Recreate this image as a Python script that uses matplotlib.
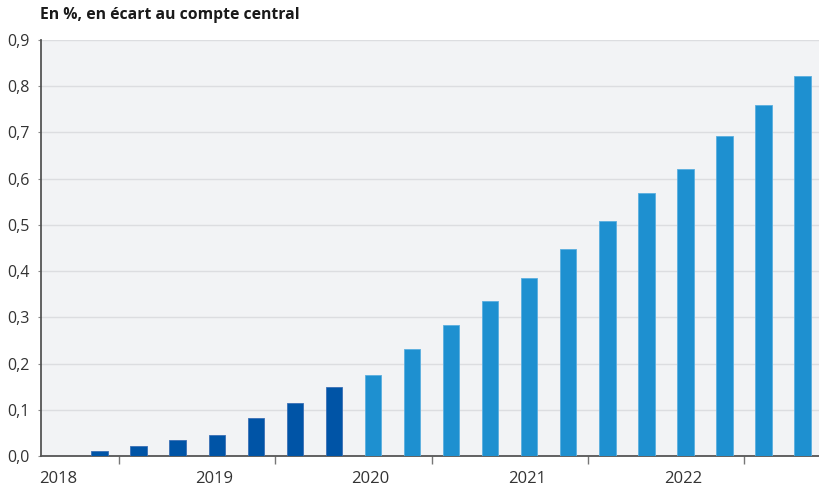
import matplotlib
matplotlib.use("Agg")
from matplotlib import pyplot as plt
from matplotlib.ticker import FixedLocator, FuncFormatter

plt.rcParams['font.family'] = ['Open Sans', 'DejaVu Sans']

# quarters from 2018 T3 to 2023 T2
years = [2018, 2018, 2019, 2019, 2019, 2019, 2020, 2020, 2020, 2020,
         2021, 2021, 2021, 2021, 2022, 2022, 2022, 2022, 2023, 2023]
quarters = [3, 4, 1, 2, 3, 4, 1, 2, 3, 4, 1, 2, 3, 4, 1, 2, 3, 4, 1, 2]
values = [0.0, 0.01, 0.021, 0.034, 0.046, 0.083, 0.114, 0.149, 0.176, 0.232,
          0.284, 0.335, 0.384, 0.448, 0.509, 0.568, 0.621, 0.692, 0.758, 0.822]
n_observed = 8  # dark bars
year_labels = ['2018', '2019', '2020', '2021', '2022']

dark = '#0054A6'
light = '#1E90D0'

x = [y + (q - 0.5) / 4 for y, q in zip(years, quarters)]
colors = [dark if i < n_observed else light for i in range(len(values))]
edges = ['#3A6FB5' if i < n_observed else '#5AAEDF' for i in range(len(values))]

fig = plt.figure(figsize=(8.19, 4.87), dpi=100)
ax = fig.add_axes([0.05, 0.0637, 0.95, 0.8545])
ax.set_facecolor('#F2F3F5')

ax.bar(x, values, width=0.105, color=colors, edgecolor=edges, linewidth=0.6, zorder=3)

ax.set_xlim(2018.5, 2023.48)
ax.set_ylim(0, 0.9)

ax.set_yticks([i / 10 for i in range(10)])
ax.yaxis.set_major_formatter(FuncFormatter(lambda v, p: f"{v:.1f}".replace('.', ',')))
ax.yaxis.grid(True, color='#DCDDE0', linewidth=1, zorder=0)
ax.tick_params(axis='y', length=2, width=0.8, color='#888888', labelsize=11.5,
               labelcolor='#333333', pad=6)

ax.xaxis.set_major_locator(FixedLocator([2019, 2020, 2021, 2022, 2023]))
ax.xaxis.set_major_formatter(FuncFormatter(lambda v, p: ''))
ax.xaxis.set_minor_locator(FixedLocator([int(s) + 0.61 for s in year_labels]))
ax.xaxis.set_minor_formatter(FuncFormatter(lambda v, p: str(int(v))))
ax.tick_params(axis='x', which='major', length=6, width=1, color='#777777', direction='out')
ax.tick_params(axis='x', which='minor', length=0, labelsize=12, labelcolor='#333333', pad=11)

for side in ['top', 'right']:
    ax.spines[side].set_visible(False)
for side in ['left', 'bottom']:
    ax.spines[side].set_color('#555555')
    ax.spines[side].set_linewidth(1.3)

fig.text(40 / 819, 1 - 15 / 487, 'En %, en écart au compte central',
         fontsize=11.3, fontweight='bold', color='#1a1a1a', va='center', ha='left')

fig.savefig('out.png', dpi=100)
